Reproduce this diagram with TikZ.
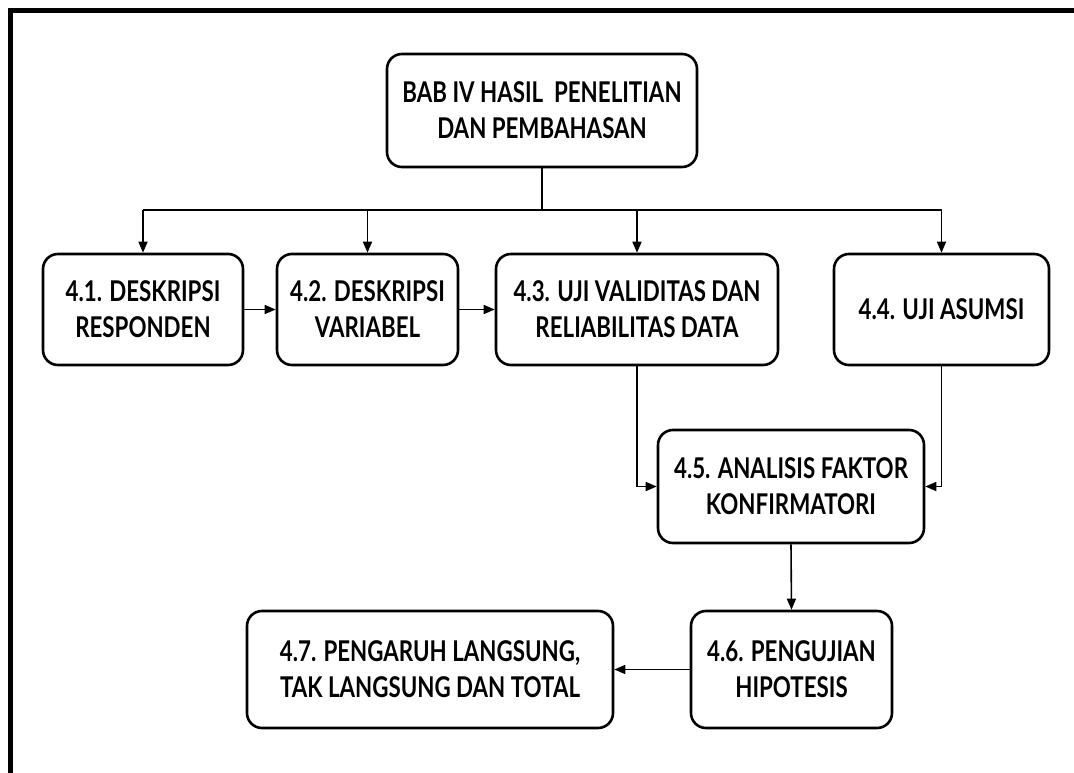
\documentclass[tikz,border=0pt]{standalone}
\usepackage{fontspec}
\setmainfont{Lato}[FakeStretch=0.78]
\usetikzlibrary{arrows.meta}

\tikzset{
  chapter/.style={draw, line width=2.6pt, rounded corners=15pt, align=center,
    inner sep=0pt, font=\fontsize{28.6}{36}\selectfont\bfseries},
  link/.style={line width=1.6pt},
  arrowlink/.style={link, -{Triangle[length=11pt,width=9pt]}},
  frameline/.style={line width=5pt}
}

\begin{document}
\begin{tikzpicture}[x=1pt,y=-1pt]
  \useasboundingbox (0,0) rectangle (1074,773);
  \fill[white] (0,0) rectangle (1074,773);

  % outer frame (open at right and bottom)
  \draw[frameline] (10.5,800) -- (10.5,10.5) -- (1100,10.5);

  % chapter heading
  \node[chapter, minimum width=310pt, minimum height=113pt] (top) at (542,110.5)
    {BAB IV HASIL~~PENELITIAN\\DAN PEMBAHASAN};

  % first row of sections
  \node[chapter, minimum width=200pt, minimum height=111pt] (d1) at (143,309.5)
    {4.1. DESKRIPSI\\RESPONDEN};
  \node[chapter, minimum width=181pt, minimum height=111pt] (d2) at (367.5,309.5)
    {4.2. DESKRIPSI\\VARIABEL};
  \node[chapter, minimum width=282pt, minimum height=111pt] (d3) at (637,309.5)
    {4.3. UJI VALIDITAS DAN\\RELIABILITAS DATA};
  \node[chapter, minimum width=215pt, minimum height=111pt] (d4) at (941.5,309.5)
    {4.4. UJI ASUMSI};

  % later sections
  \node[chapter, minimum width=266pt, minimum height=113pt] (d5) at (791,486.5)
    {4.5. ANALISIS FAKTOR\\KONFIRMATORI};
  \node[chapter, minimum width=201pt, minimum height=117pt] (d6) at (791.5,669.5)
    {4.6. PENGUJIAN\\HIPOTESIS};
  \node[chapter, minimum width=366pt, minimum height=117pt] (d7) at (430,669.5)
    {4.7. PENGARUH LANGSUNG,\\TAK LANGSUNG DAN TOTAL};

  % distribution bus below the heading
  \coordinate (bus) at (542,210);
  \draw[link] (top.south) -- (bus);
  \draw[link] (d1.north |- bus) -- (d4.north |- bus);
  \foreach \n in {d1,d2,d3,d4}
    \draw[arrowlink] (\n.north |- bus) -- (\n.north);

  % flow between sections
  \draw[arrowlink] (d1.east) -- (d2.west);
  \draw[arrowlink] (d2.east) -- (d3.west);
  \draw[arrowlink] (d3.south) |- (d5.west);
  \draw[arrowlink] (d4.south) |- (d5.east);
  \draw[arrowlink] (d5.south) -- (d6.north);
  \draw[arrowlink] (d6.west) -- (d7.east);
\end{tikzpicture}
\end{document}
